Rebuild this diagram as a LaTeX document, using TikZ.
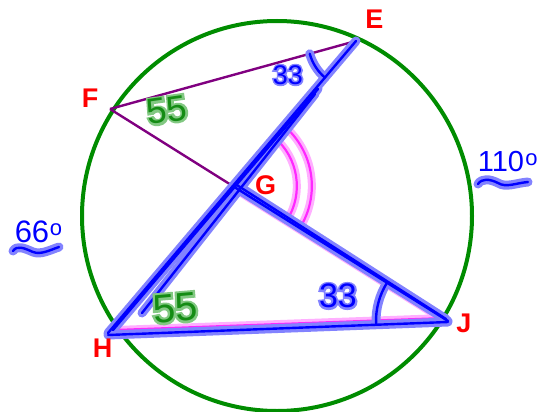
\documentclass[tikz,border=0pt]{standalone}
\usepackage{fontspec}
\setmainfont{Liberation Sans}
\newfontfamily\halofont[FakeBold=12]{Liberation Sans}
\usetikzlibrary{angles,calc}
\definecolor{cgreen}{RGB}{0,140,0}
\definecolor{cpurple}{RGB}{128,0,128}
\definecolor{cblue}{RGB}{0,0,255}
\definecolor{bhalo}{RGB}{130,130,255}
\definecolor{cpink}{RGB}{255,40,255}
\definecolor{phalo}{RGB}{255,175,255}
\definecolor{cred}{RGB}{255,0,0}
\definecolor{hgreen}{RGB}{20,140,20}
\definecolor{ghalo}{RGB}{130,200,130}
\newcommand\hwnum[8]{% name, x, y, text, ink, halo, size, rotation
  \node[text=#6, inner sep=0pt, rotate=#8, font=\halofont\fontsize{#7}{#7}\selectfont] (#1h) at (#2,#3) {#4};
  \node[text=#5, inner sep=0pt, rotate=#8, font=\fontsize{#7}{#7}\selectfont] (#1) at (#2,#3) {#4};
}
\begin{document}
\begin{tikzpicture}[x=1pt,y=-1pt,
  circ/.style={draw=cgreen, line width=4pt},
  chord/.style={draw=cpurple, line width=2.4pt},
  bhal/.style={draw=bhalo, line width=9pt, line cap=round, line join=round},
  bink/.style={draw=cblue, line width=2.4pt, line cap=round, line join=round},
  phal/.style={draw=phalo, line width=8pt, line cap=round},
  pinkink/.style={draw=cpink, line width=2.2pt, line cap=round},
  vlabel/.style={text=cred, font=\fontsize{27}{27}\selectfont\bfseries, inner sep=0pt, anchor=base},
  numtext/.style={text=cblue, inner sep=0pt, anchor=base},
]
\useasboundingbox (0,0) rectangle (541,412);
\coordinate (O) at (277,216);
\coordinate (E) at (356,41);
\coordinate (F) at (110,109);
\coordinate (H) at (108,333);
\coordinate (J) at (448,321);
\coordinate (G) at (intersection of F--J and H--E);
\coordinate (e2) at (318,89);
\coordinate (h3) at (142,313);
\coordinate (e3) at (315,94);
\coordinate (sqa) at (13,251);
\coordinate (sqm) at (33,252);
\coordinate (sqb) at (59,247);
\coordinate (sqc) at (478,184);
\coordinate (sqn) at (498,183);
\coordinate (sqd) at (528,182);

% circle
\draw[circ] (O) circle[radius=195pt];

% original chords
\draw[chord] (F) -- (E);
\draw[chord] (F) -- (J);
\draw[chord] (H) -- (E);
\draw[chord] (H) -- (J);

% pink highlights
\newcommand\pinkpaths[1]{%
  \draw[#1] ($(G)+(2,3)$) -- ($(J)+(-3,0)$);
  \draw[#1] ($(H)+(8,-3)$) -- ($(J)+(-3,-3)$);
  \pic[#1, angle radius=64pt] {angle=J--G--E};
  \pic[#1, angle radius=79pt] {angle=J--G--E};
}
\pinkpaths{phal}
\pinkpaths{pinkink}

% blue highlights
\newcommand\bluepaths[1]{%
  \draw[#1] (H) -- (E);
  \draw[#1] ($(H)+(5,-3)$) -- (e2);
  \draw[#1] (h3) -- (e3);
  \draw[#1] (G) -- (J);
  \draw[#1] ($(G)+(4,-1)$) -- ($(J)+(-2,-2)$);
  \draw[#1] ($(H)+(0,2)$) -- ($(J)+(0,1)$);
  \pic[#1, angle radius=48pt] {angle=F--E--H};
  \pic[#1, angle radius=72pt] {angle=G--J--H};
  \draw[#1] (sqa) .. controls (17,245) and (24,248) .. (sqm) .. controls (41,255) and (50,250) .. (sqb);
  \draw[#1] (sqc) .. controls (482,178) and (490,179) .. (sqn) .. controls (506,188) and (516,183) .. (sqd);
}
\bluepaths{bhal}
\bluepaths{bink}

% vertex labels
\node[vlabel] (lE) at (374.5,29) {E};
\node[vlabel] (lF) at (90,107) {F};
\node[vlabel] (lG) at (265.5,194) {G};
\node[vlabel] (lH) at (102.5,357) {H};
\node[vlabel] (lJ) at (464,332) {J};

% arc measures
\node[numtext, font=\fontsize{31}{31}\selectfont] (m66) at (32,242) {66};
\node[numtext, font=\fontsize{22}{22}\selectfont] (d66) at (56,235) {o};
\node[numtext, font=\fontsize{29}{29}\selectfont] (m110) at (501,171) {110};
\node[numtext, font=\fontsize{22}{22}\selectfont] (d110) at (531.5,165) {o};

% handwritten angle values
\hwnum{aF}{167}{110}{55}{hgreen}{ghalo}{36}{8}
\hwnum{aH}{175}{308}{55}{hgreen}{ghalo}{40}{5}
\hwnum{aE}{288}{75}{33}{cblue}{bhalo}{27}{0}
\hwnum{aJ}{338}{296}{33}{cblue}{bhalo}{34}{0}
\end{tikzpicture}
\end{document}
